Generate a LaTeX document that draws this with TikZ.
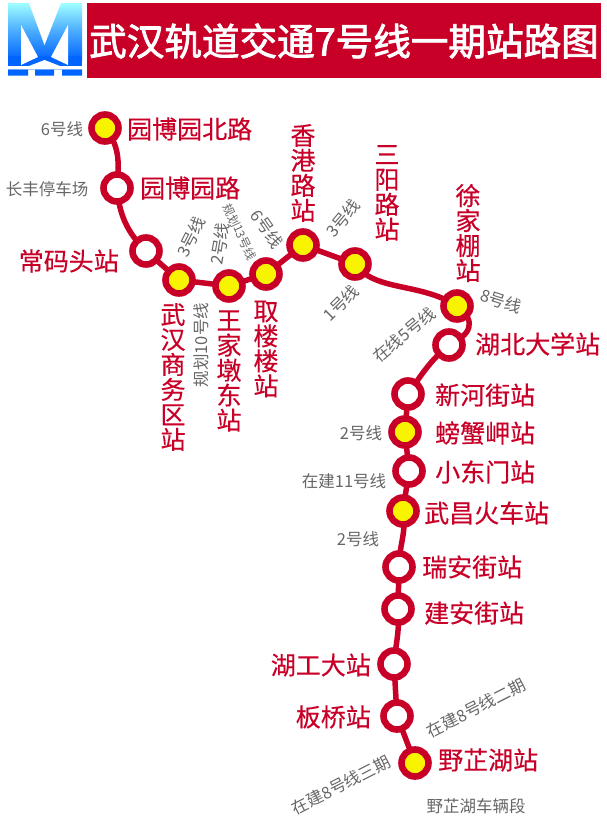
\documentclass[tikz,border=0pt]{standalone}
\usepackage{fontspec}
\setmainfont{Noto Sans CJK SC}
\newfontfamily\titlecjk[FakeBold=2.2]{Noto Sans CJK SC}
\newfontfamily\stncjk[FakeBold=0.35]{Noto Sans CJK SC}
\usetikzlibrary{backgrounds}
\definecolor{metrored}{HTML}{C80028}
\definecolor{stopyellow}{HTML}{F8F400}
\definecolor{notegray}{HTML}{666666}
\definecolor{logotop}{HTML}{A0FFFF}
\definecolor{logoblue}{HTML}{0064FF}
\tikzset{
  x=1pt,y=1pt,
  stopY/.style={circle,draw=metrored,line width=6.6pt,fill=stopyellow,minimum size=27pt,inner sep=0pt},
  stopW/.style={circle,draw=metrored,line width=6.6pt,fill=white,minimum size=27pt,inner sep=0pt},
  railway/.style={draw=metrored,line width=5.5pt,line cap=round},
  stn/.style={text=metrored,inner sep=0pt,font=\fontsize{25}{25}\stncjk\selectfont},
  stnV/.style={stn,align=center},
  note/.style={text=notegray,inner sep=0pt,font=\fontsize{16.5}{17}\selectfont},
  titletext/.style={text=white,inner sep=0pt,font=\fontsize{37.6}{40}\titlecjk\selectfont},
}
\begin{document}
\begin{tikzpicture}
\useasboundingbox (0,0) rectangle (606,-823);
% logo
\shade[top color=logotop,bottom color=logoblue,middle color=logoblue!55!logotop] (8,-3) rectangle (82,-60);
\fill[logoblue] (8,-56) rectangle (82,-69.5);
\fill[white] (29,-3) -- (44.5,-45) -- (61,-3) -- cycle;
\fill[white] (21,-25) -- (38,-57) -- (21,-65) -- cycle;
\fill[white] (68,-25) -- (51,-57) -- (68,-65) -- cycle;
\fill[white] (8,-66) -- (29,-66) -- (44.5,-60) -- (60,-66) -- (82,-66) -- (82,-69.5) -- (8,-69.5) -- cycle;
\fill[logoblue] (8,-69.5) rectangle (28,-75.5) (35,-69.5) rectangle (54,-75.5) (62,-69.5) rectangle (82,-75.5);
% header
\fill[metrored] (87,-3) rectangle (601,-78);
\node[titletext] (title) at (344,-41) {武汉轨道交通7号线一期站路图};
% stations
\node[stopY] (s1) at (105,-128) {};
\node[stopW] (s2) at (117,-188) {};
\node[stopW] (s3) at (146,-251) {};
\node[stopY] (s4) at (179,-280) {};
\node[stopY] (s5) at (229,-286) {};
\node[stopY] (s6) at (266,-274) {};
\node[stopY] (s7) at (303,-245) {};
\node[stopY] (s8) at (355,-264) {};
\node[stopY] (s9) at (457,-306) {};
\node[stopW] (s10) at (449,-345) {};
\node[stopW] (s11) at (408,-394) {};
\node[stopY] (s12) at (405,-432) {};
\node[stopW] (s13) at (409,-471) {};
\node[stopY] (s14) at (403,-511) {};
\node[stopW] (s15) at (399,-567) {};
\node[stopW] (s16) at (398,-609) {};
\node[stopW] (s17) at (394,-664) {};
\node[stopW] (s18) at (397,-716) {};
\node[stopY] (s19) at (415,-763) {};
% connectors
\begin{scope}[on background layer]
\draw[railway] (s1.center) to[out=-50,in=85] (s2.center);
\draw[railway] (s2.center) to[out=-85,in=135] (s3.center);
\draw[railway] (s3.center) -- (s4.center);
\draw[railway] (s4.center) -- (s5.center);
\draw[railway] (s5.center) -- (s6.center);
\draw[railway] (s6.center) -- (s7.center);
\draw[railway] (s7.center) -- (s8.center);
\draw[railway] (s8.center) .. controls (375,-292) and (420,-282) .. (s9.center);
\draw[railway] (s9.center) .. controls (478,-322) and (470,-335) .. (s10.center);
\draw[railway] (s10.center) to[out=-140,in=55] (s11.center);
\draw[railway] (s11.center) -- (s12.center);
\draw[railway] (s12.center) -- (s13.center);
\draw[railway] (s13.center) -- (s14.center);
\draw[railway] (s14.center) to[out=-80,in=90] (s15.center);
\draw[railway] (s15.center) -- (s16.center);
\draw[railway] (s16.center) to[out=-85,in=85] (s17.center);
\draw[railway] (s17.center) -- (s18.center);
\draw[railway] (s18.center) -- (s19.center);
\end{scope}
% station names
\node[stn,anchor=west] (n1) at (127,-129) {园博园北路};
\node[stn,anchor=west] (n2) at (140,-188) {园博园路};
\node[stn,anchor=east] (n3) at (119,-261) {常码头站};
\node[stnV] (n4) at (173,-377) {武\\汉\\商\\务\\区\\站};
\node[stnV] (n5) at (229,-371) {王\\家\\墩\\东\\站};
\node[stnV] (n6) at (266,-349) {取\\楼\\楼\\站};
\node[stnV] (n7) at (303,-173) {香\\港\\路\\站};
\node[stnV] (n8) at (387,-193) {三\\阳\\路\\站};
\node[stnV] (n9) at (468,-233) {徐\\家\\棚\\站};
\node[stn,anchor=west] (n10) at (475,-344) {湖北大学站};
\node[stn,anchor=west] (n11) at (435,-395) {新河街站};
\node[stn,anchor=west] (n12) at (435,-433) {螃蟹岬站};
\node[stn,anchor=west] (n13) at (435,-472) {小东门站};
\node[stn,anchor=west] (n14) at (424,-513) {武昌火车站};
\node[stn,anchor=west] (n15) at (422,-567) {瑞安街站};
\node[stn,anchor=west] (n16) at (424,-613) {建安街站};
\node[stn,anchor=east] (n17) at (371,-665) {湖工大站};
\node[stn,anchor=east] (n18) at (371,-717) {板桥站};
\node[stn,anchor=west] (n19) at (438,-760) {野芷湖站};
% notes
\node[note] (g1) at (62,-129) {6号线};
\node[note] (g2) at (47,-189) {长丰停车场};
\node[note,rotate=63] (g3) at (191,-237) {3号线};
\node[note,rotate=80] (g4) at (220,-244) {2号线};
\node[note,rotate=-65,font=\fontsize{12}{13}\selectfont] (g5) at (240,-232) {规划13号线};
\node[note,rotate=-55] (g6) at (267,-229) {6号线};
\node[note,rotate=50] (g7) at (343,-218) {3号线};
\node[note,rotate=45] (g8) at (341,-303) {1号线};
\node[note,rotate=-18] (g9) at (501,-301) {8号线};
\node[note,rotate=40] (g10) at (404,-335) {在线5号线};
\node[note,rotate=90] (g11) at (201,-345) {规划10号线};
\node[note] (g12) at (361,-433) {2号线};
\node[note] (g13) at (344,-481) {在建11号线};
\node[note] (g14) at (358,-539) {2号线};
\node[note,rotate=27] (g15) at (476,-708) {在建8号线二期};
\node[note,rotate=27] (g16) at (341,-785) {在建8号线三期};
\node[note] (g17) at (476,-806) {野芷湖车辆段};
\end{tikzpicture}
\end{document}
